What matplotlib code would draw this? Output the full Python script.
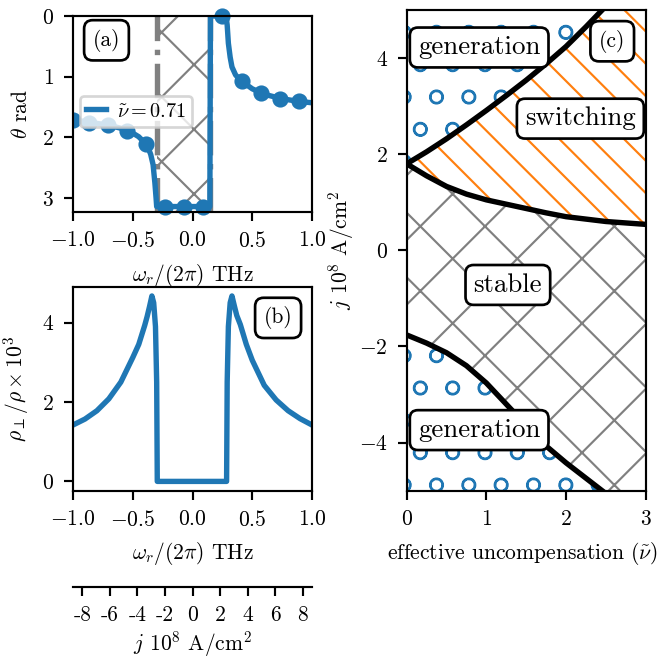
import matplotlib
matplotlib.use("Agg")
import matplotlib.pyplot as plt

plt.rcParams.update({
    "font.family": "serif",
    "font.serif": ["cmr10"],
    "mathtext.fontset": "cm",
    "axes.formatter.use_mathtext": True,
    "font.size": 8,
    "hatch.linewidth": 0.8,
})

# (a) angle theta vs frequency, nu~ = 0.71
omega_a = [-1.0, -0.9, -0.8, -0.7, -0.6, -0.5, -0.45, -0.4, -0.37, -0.35, -0.33,
           -0.315, -0.305, -0.30, 0.145, 0.15, 0.28, 0.29, 0.30, 0.315, 0.33,
           0.36, 0.4, 0.5, 0.6, 0.7, 0.8, 0.9, 1.0]
theta_a = [1.71, 1.74, 1.77, 1.80, 1.85, 1.93, 1.99, 2.09, 2.18, 2.28, 2.45,
           2.75, 3.0, 3.14, 3.14, 0.0, 0.0, 0.15, 0.45, 0.68, 0.84,
           0.97, 1.06, 1.20, 1.29, 1.34, 1.38, 1.41, 1.43]
omega_pts = [-1.0, -0.866, -0.707, -0.548, -0.389, -0.23, -0.07, 0.09,
             0.25, 0.41, 0.57, 0.73, 0.89]
theta_pts = [1.71, 1.76, 1.80, 1.89, 2.11, 3.14, 3.14, 3.14,
             0.0, 1.07, 1.27, 1.36, 1.40]
gap_lo, gap_hi = -0.3, 0.15

# (b) transverse resistivity
omega_b = [-1.0, -0.9, -0.8, -0.7, -0.6, -0.5, -0.45, -0.4, -0.38, -0.36, -0.34,
           -0.325, -0.31, -0.30, -0.295, 0.285, 0.29, 0.30, 0.315, 0.33, 0.35,
           0.37, 0.4, 0.45, 0.5, 0.6, 0.7, 0.8, 0.9, 1.0]
rho_b = [1.42, 1.57, 1.78, 2.08, 2.50, 3.12, 3.45, 3.93, 4.15, 4.40, 4.67,
         4.50, 3.90, 2.50, 0.0, 0.0, 2.50, 3.90, 4.50, 4.67, 4.42,
         4.18, 3.95, 3.45, 3.05, 2.42, 2.05, 1.78, 1.58, 1.42]
omega_ticks = [-1.0, -0.5, 0.0, 0.5, 1.0]

# (c) phase diagram
nu = [0, 0.25, 0.5, 0.75, 1.0, 1.25, 1.5, 1.75, 2.0, 2.25, 2.5, 2.75, 3.0]
j_upper = [1.80, 2.05, 2.32, 2.61, 2.91, 3.22, 3.54, 3.88, 4.24, 4.65, 5.08, 5.5, 5.97]
j_switch = [1.80, 1.55, 1.33, 1.17, 1.05, 0.96, 0.87, 0.78, 0.70, 0.65, 0.60, 0.57, 0.54]
j_lower = [-1.76, -1.93, -2.13, -2.40, -2.76, -3.20, -3.64, -4.07, -4.42, -4.74,
           -5.06, -5.4, -5.75]

j_ticks = [-8, -6, -4, -2, 0, 2, 4, 6, 8]

fig = plt.figure(figsize=(659 / 194, 658 / 194), dpi=194)
ax_a = fig.add_axes([0.1108, 0.6778, 0.3627, 0.2979])
ax_b = fig.add_axes([0.1108, 0.2543, 0.3627, 0.3100])
ax_j = fig.add_axes([0.1108, 0.1084, 0.3627, 0.0001])
ax_c = fig.add_axes([0.6171, 0.2543, 0.3627, 0.7305])

label_box = dict(boxstyle="round,pad=0.4", fc="white", ec="black", lw=1)

# panel (a)
ax_a.axvspan(gap_lo, gap_hi, facecolor="none", edgecolor="gray", hatch="x", linewidth=0)
ax_a.axvline(gap_lo, color="gray", ls="-.", lw=2)
ax_a.axvline(gap_hi, color="gray", ls="-.", lw=2)
ax_a.plot(omega_a, theta_a, color="C0", lw=2, label=r"$\tilde{\nu}=0.71$")
ax_a.plot(omega_pts[:1], theta_pts[:1], "o", color="C0", ms=5)
ax_a.plot(omega_pts[1:], theta_pts[1:], "o", color="C0", ms=5, clip_on=False)
ax_a.set_xlim(-1, 1)
ax_a.set_ylim(3.23, 0)
ax_a.set_xticks(omega_ticks)
ax_a.set_yticks([0, 1, 2, 3])
ax_a.set_xlabel(r"$\omega_r/(2\pi)$ THz")
ax_a.set_ylabel(r"$\theta$ rad")
ax_a.legend(loc="upper left", bbox_to_anchor=(0.03, 0.59), borderaxespad=0,
            fontsize=7.5, handlelength=1.0, handletextpad=0.5, borderpad=0.3)
ax_a.text(0.14, 0.876, "(a)", transform=ax_a.transAxes, ha="center", va="center", bbox=label_box)

# panel (b)
ax_b.plot(omega_b, rho_b, color="C0", lw=2)
ax_b.set_xlim(-1, 1)
ax_b.set_xticks(omega_ticks)
ax_b.set_xlabel(r"$\omega_r/(2\pi)$ THz")
ax_b.set_ylabel(r"$\rho_\perp/\rho\times 10^3$")
ax_b.text(0.858, 0.847, "(b)", transform=ax_b.transAxes, ha="center", va="center", bbox=label_box)

# current scale below (b)
for side in ["left", "right", "top"]:
    ax_j.spines[side].set_visible(False)
ax_j.set_facecolor("none")
ax_j.set_yticks([])
ax_j.set_xlim(-8.68, 8.68)
ax_j.set_xticks(j_ticks)
ax_j.set_xticklabels([str(v) for v in j_ticks])
ax_j.set_xlabel(r"$j$ $10^8$ A/cm$^2$", labelpad=1.5)

# panel (c)
ax_c.fill_between(nu, j_upper, 5, facecolor="none", edgecolor="C0", hatch="o", linewidth=0)
ax_c.fill_between(nu, j_switch, j_upper, facecolor="none", edgecolor="C1", hatch="\\\\", linewidth=0)
ax_c.fill_between(nu, j_lower, j_switch, facecolor="none", edgecolor="gray", hatch="x", linewidth=0)
ax_c.fill_between(nu, -5, j_lower, facecolor="none", edgecolor="C0", hatch="o", linewidth=0)
ax_c.plot(nu, j_upper, color="black", lw=2)
ax_c.plot(nu, j_switch, color="black", lw=2)
ax_c.plot(nu, j_lower, color="black", lw=2)
ax_c.set_xlim(0, 3)
ax_c.set_ylim(-5, 5)
ax_c.set_xticks([0, 1, 2, 3])
ax_c.set_yticks([-4, -2, 0, 2, 4])
ax_c.set_xlabel(r"effective uncompensation ($\tilde{\nu}$)", x=0.485)
ax_c.set_ylabel(r"$j$ $10^8$ A/cm$^2$", labelpad=1)

region_box = dict(boxstyle="round,pad=0.3", fc="white", ec="black", lw=1)
ax_c.text(0.91, 4.22, "generation", fontsize=10, ha="center", va="center", bbox=region_box)
ax_c.text(2.18, 2.74, "switching", fontsize=10, ha="center", va="center", bbox=region_box)
ax_c.text(1.27, -0.72, "stable", fontsize=10, ha="center", va="center", bbox=region_box)
ax_c.text(0.91, -3.74, "generation", fontsize=10, ha="center", va="center", bbox=region_box)
ax_c.text(2.58, 4.35, "(c)", ha="center", va="center", bbox=label_box)

fig.savefig("out.png", dpi=194)
